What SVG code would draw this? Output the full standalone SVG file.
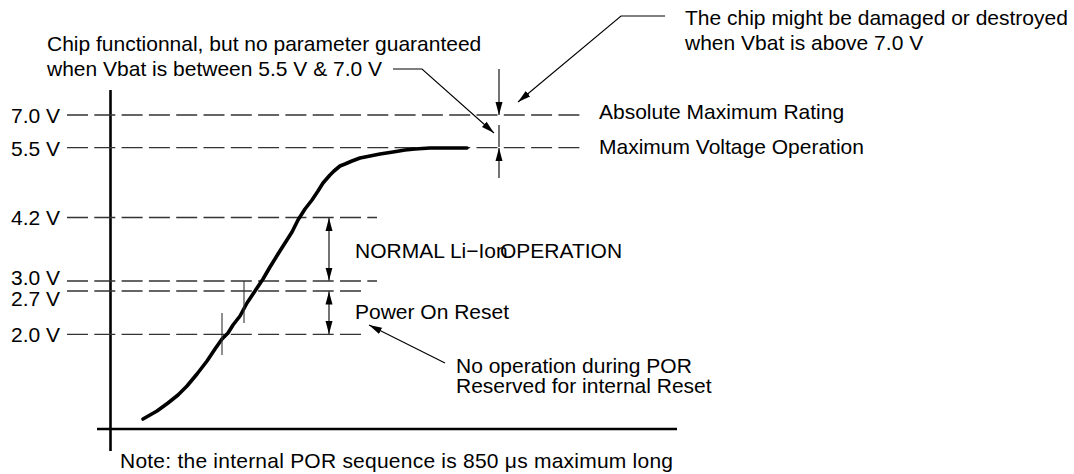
<svg xmlns="http://www.w3.org/2000/svg" width="1074" height="474" viewBox="0 0 1074 474">
<style>
text { font-family: "Liberation Sans", Arial, sans-serif; font-size: 21px; fill: #000; }
.lbl { text-anchor: end; }
.dash { stroke: #333; stroke-width: 1.3; stroke-dasharray: 21 6.3; fill: none; }
.axis { stroke: #000; stroke-width: 2.6; fill: none; }
.thin { stroke: #000; stroke-width: 1.1; fill: none; }
.tick { stroke: #333; stroke-width: 1.1; fill: none; }
.curve { stroke: #000; stroke-width: 3.6; fill: none; stroke-linejoin: round; stroke-linecap: round; }
</style>
<defs>
<marker id="ah" markerUnits="userSpaceOnUse" markerWidth="14" markerHeight="8" refX="13" refY="3.5" orient="auto-start-reverse" viewBox="0 0 14 7">
<path d="M0,0 L13,3.5 L0,7 Z" fill="#000"/>
</marker>
</defs>
<rect width="1074" height="474" fill="#fff"/>

<g id="axes">
<line class="axis" x1="110.5" y1="90" x2="110.5" y2="451"/>
<line class="axis" x1="97" y1="429" x2="677" y2="429"/>
</g>

<g id="levels">
<g id="level-7v0"><line class="dash" x1="67" y1="115" x2="581" y2="115"/><text class="lbl" x="60" y="123">7.0 V</text></g>
<g id="level-5v5"><line class="dash" x1="67" y1="147.7" x2="581" y2="147.7"/><text class="lbl" x="60" y="155.5">5.5 V</text></g>
<g id="level-4v2"><line class="dash" x1="67" y1="217.5" x2="377" y2="217.5"/><text class="lbl" x="60" y="225">4.2 V</text></g>
<g id="level-3v0"><line class="dash" x1="67" y1="281" x2="377" y2="281"/><text class="lbl" x="60" y="285">3.0 V</text></g>
<g id="level-2v7"><line class="dash" x1="67" y1="291" x2="365" y2="291"/><text class="lbl" x="60" y="305.5">2.7 V</text></g>
<g id="level-2v0"><line class="dash" x1="67" y1="334.3" x2="365" y2="334.3"/><text class="lbl" x="60" y="341.5">2.0 V</text></g>
</g>

<g id="vbat-curve">
<path class="curve" d="M143,419 L157,411 L168,403 L178,395 L187,386 L197,374 L207,361 L215,349 L222,339 L228,333 L233,325 L240,316 L247,303 L255,291 L263,279 L270,267 L278,254 L285,243 L292,232 L298,220 L305,209 L312,200 L318,191 L323,183 L330,175 L334,171 L340,166 L345,164 L352,161 L360,158 L370,156 L380,154 L393,152 L405,150 L415,149 L430,148 L467,148"/>
<line class="tick" x1="244" y1="281" x2="244" y2="323"/>
<line class="tick" x1="222" y1="313" x2="222" y2="355"/>
</g>

<g id="note-chip-functional">
<text x="47" y="51">Chip functionnal, but no parameter guaranteed</text>
<text x="47" y="76">when Vbat is between 5.5 V &amp; 7.0 V</text>
</g>
<g id="note-chip-damaged">
<text x="685" y="25">The chip might be damaged or destroyed</text>
<text x="685" y="50">when Vbat is above 7.0 V</text>
</g>
<g id="label-abs-max"><text x="599" y="119">Absolute Maximum Rating</text></g>
<g id="label-max-op"><text x="599" y="154">Maximum Voltage Operation</text></g>
<g id="label-normal"><text x="355" y="258">NORMAL Li−Ion<tspan x="500">OPERATION</tspan></text></g>
<g id="label-por"><text x="355" y="319">Power On Reset</text></g>
<g id="note-por">
<text x="456" y="373">No operation during POR</text>
<text x="456" y="393">Reserved for internal Reset</text>
</g>
<g id="note-sequence"><text x="120" y="468" textLength="553" lengthAdjust="spacing">Note: the internal POR sequence is 850 μs maximum long</text></g>

<g id="connectors">
<path class="thin" d="M393,69 H422 L494,133" marker-end="url(#ah)"/>
<path class="thin" d="M665,16 H621 L518,102" marker-end="url(#ah)"/>
<path class="thin" d="M499,69 V115" marker-end="url(#ah)"/>
<path class="thin" d="M499,125 V147"/>
<path class="thin" d="M499,178 V148" marker-end="url(#ah)"/>
<path class="thin" d="M329,218 V280.5" marker-start="url(#ah)" marker-end="url(#ah)"/>
<path class="thin" d="M329,291.5 V334" marker-start="url(#ah)" marker-end="url(#ah)"/>
<path class="thin" d="M445,363 L369,325" marker-end="url(#ah)"/>
</g>
</svg>
